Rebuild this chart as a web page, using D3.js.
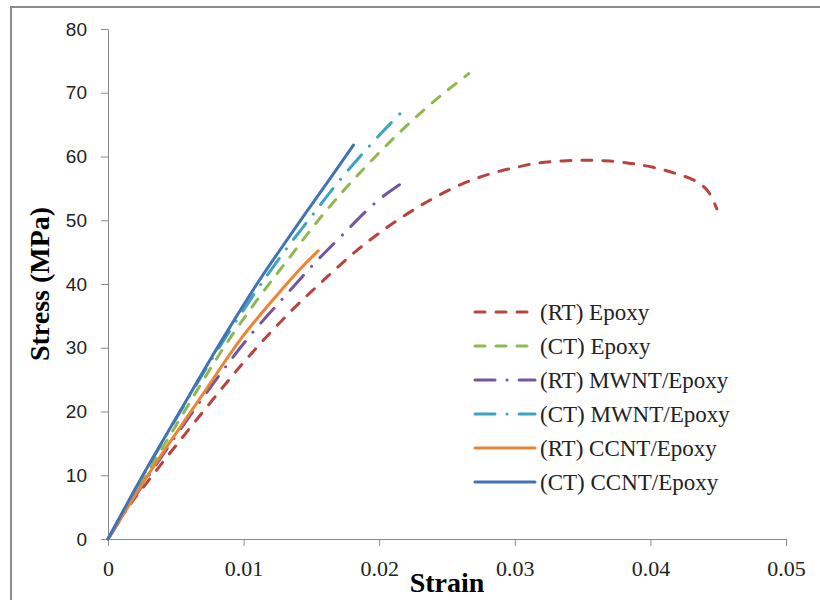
<!DOCTYPE html>
<html>
<head>
<meta charset="utf-8">
<script src="https://cdn.jsdelivr.net/npm/d3@7"></script>
<style>
  body { margin: 0; background: #fff; }
</style>
</head>
<body>
<div id="chart"></div>
<script>
// [strain, stress (MPa)]
const rtEpoxy = [[0,0],[0.0011,3.8],[0.0030,9.2],[0.0054,15.7],[0.0074,21.0],[0.0096,26.7],[0.0119,32.2],
  [0.0132,35.1],[0.0159,40.6],[0.0182,45.0],[0.0208,49.2],[0.0237,53.1],[0.0267,56.2],[0.0289,57.7],
  [0.0301,58.3],[0.0318,59.0],[0.0335,59.3],[0.0353,59.4],[0.0370,59.3],[0.0386,58.9],[0.0402,58.3],
  [0.0419,57.3],[0.0435,55.9],[0.0443,54.4],[0.0449,51.8]]
const ctEpoxy = [[0,0],[0.0045,16.0],[0.0090,31.5],[0.0110,37.5],[0.0138,45.3],[0.0148,48.1],
  [0.0200,60.6],[0.0234,67.5],[0.0266,73.0]]
const rtMwnt = [[0,0],[0.0030,9.9],[0.0060,19.2],[0.0104,31.7],[0.0136,39.4],[0.0149,42.5],
  [0.0172,47.5],[0.0198,52.9],[0.0220,56.3]]
const ctMwnt = [[0,0],[0.0045,17.0],[0.0090,32.7],[0.0129,44.8],[0.0150,50.6],[0.0171,56.3],
  [0.0193,61.7],[0.0218,67.3]]
const rtCcnt = [[0,0],[0.0034,11.5],[0.0069,22.4],[0.0098,31.4],[0.0122,37.6],[0.0141,42.2],[0.0155,45.2]]
const ctCcnt = [[0,0],[0.0023,9.0],[0.0053,20.0],[0.0084,31.2],[0.0112,40.7],[0.0129,46.0],
  [0.0146,51.2],[0.0164,56.6],[0.0181,61.8]]

const seriesNames = ["(RT) Epoxy","(CT) Epoxy","(RT) MWNT/Epoxy","(CT) MWNT/Epoxy","(RT) CCNT/Epoxy","(CT) CCNT/Epoxy"]
const xTicks = [0,0.01,0.02,0.03,0.04,0.05]
const yTicks = [0,10,20,30,40,50,60,70,80]

const series = [
  {name: seriesNames[0], data: rtEpoxy, color: "#b9433f", dash: "10 11"},
  {name: seriesNames[1], data: ctEpoxy, color: "#8fb84e", dash: "10 11"},
  {name: seriesNames[2], data: rtMwnt, color: "#7355a0", dash: "20 12 0.1 12"},
  {name: seriesNames[3], data: ctMwnt, color: "#3ca3c0", dash: "20 12 0.1 12"},
  {name: seriesNames[4], data: rtCcnt, color: "#ec8433", dash: null},
  {name: seriesNames[5], data: ctCcnt, color: "#4273b4", dash: null}
]

drawChart("#chart")

function drawChart(id){
  const canvas = {width: 820, height: 600, margin: {top: 29, bottom: 61, left: 108, right: 34}}
  const svg = d3.select(id).append("svg").attr("width", canvas.width).attr("height", canvas.height)

  // frame of the figure (only left and top fall inside the picture)
  svg.append("rect").attr("x", 11).attr("y", 7).attr("width", 830).attr("height", 620)
    .attr("fill", "none").attr("stroke", "#8c8c8c").attr("stroke-width", 2)

  const sc = addScales(canvas)
  addAxes(svg, sc, canvas)
  addLines(svg, sc)
  addLegend(svg)
}

function addScales(canvas){
  const xScale = d3.scaleLinear().domain([0, 0.05])
    .range([canvas.margin.left, canvas.width - canvas.margin.right])
  const yScale = d3.scaleLinear().domain([0, 80])
    .range([canvas.height - canvas.margin.bottom, canvas.margin.top])
  return {xScale, yScale}
}

function addAxes(svg, sc, canvas){
  const base = canvas.height - canvas.margin.bottom

  const gx = svg.append("g").attr("transform", `translate(0,${base})`)
    .call(d3.axisBottom(sc.xScale).tickValues(xTicks).tickSize(7).tickSizeOuter(0).tickPadding(14).tickFormat(d => d === 0 ? "0" : d3.format(".2f")(d)))
  gx.selectAll("text").attr("font-family", "'Liberation Serif', serif").attr("font-size", 22).attr("fill", "#222")

  const gy = svg.append("g").attr("transform", `translate(${canvas.margin.left},0)`)
    .call(d3.axisLeft(sc.yScale).tickValues(yTicks).tickSize(7).tickSizeOuter(0).tickPadding(14))
  gy.selectAll("text").attr("font-family", "'Liberation Sans', sans-serif").attr("font-size", 19).attr("fill", "#222")

  svg.selectAll(".domain, .tick line").attr("stroke", "#8a8a8a")

  svg.append("text").attr("x", 447).attr("y", 592).attr("text-anchor", "middle")
    .attr("font-family", "'Liberation Serif', serif").attr("font-weight", "bold").attr("font-size", 28)
    .text("Strain")

  svg.append("text").attr("transform", "translate(49,284) rotate(-90)").attr("text-anchor", "middle")
    .attr("font-family", "'Liberation Serif', serif").attr("font-weight", "bold").attr("font-size", 28)
    .text("Stress (MPa)")
}

function addLines(svg, sc){
  const line = d3.line().curve(d3.curveMonotoneX).x(d => sc.xScale(d[0])).y(d => sc.yScale(d[1]))

  svg.selectAll("path.curve").data(series).join("path").attr("class", "curve")
    .attr("fill", "none").attr("stroke", d => d.color).attr("stroke-width", 3)
    .attr("stroke-linecap", "round").attr("stroke-dasharray", d => d.dash)
    .attr("d", d => line(d.data))
}

function addLegend(svg){
  const g = svg.append("g").attr("transform", "translate(0,312)")
  const rows = g.selectAll("g").data(series).join("g").attr("transform", (d, i) => `translate(0,${i * 34})`)

  rows.append("line").attr("x1", 475).attr("x2", 535).attr("y1", 0).attr("y2", 0)
    .attr("stroke", d => d.color).attr("stroke-width", 3).attr("stroke-linecap", "round")
    .attr("stroke-dasharray", d => d.dash)

  rows.append("text").attr("x", 540).attr("y", 8)
    .attr("font-family", "'Liberation Serif', serif").attr("font-size", 23).attr("fill", "#222")
    .text(d => d.name)
}
</script>
</body>
</html>
